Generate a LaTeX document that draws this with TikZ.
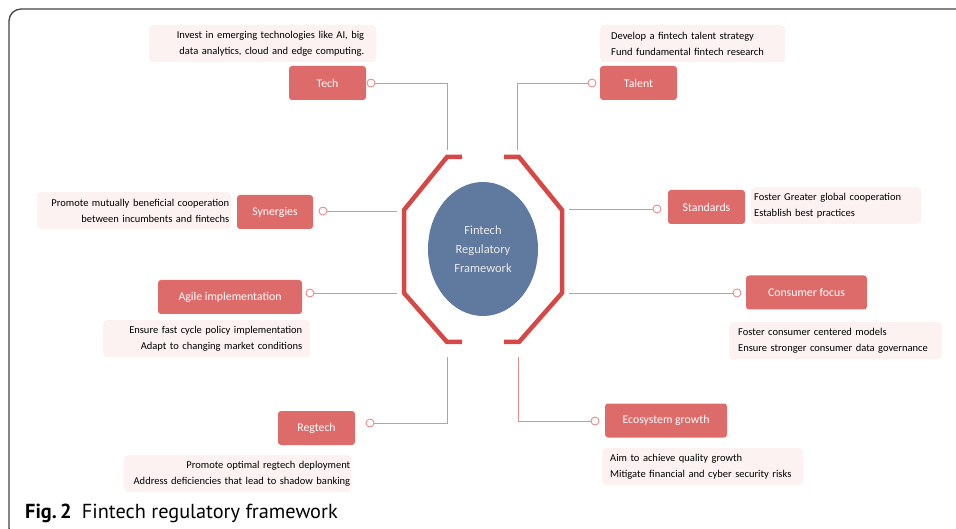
\documentclass[tikz,border=0pt]{standalone}
\usepackage{fontspec}
\setmainfont{Carlito}
\newfontfamily\capfont{PT Sans}
\usetikzlibrary{positioning,shapes.geometric}

\definecolor{pillred}{HTML}{DC6B6A}
\definecolor{linkred}{HTML}{E88C8A}
\definecolor{framered}{HTML}{D64845}
\definecolor{coreblue}{HTML}{60799E}
\definecolor{notepink}{HTML}{FCF2F2}
\definecolor{framegray}{HTML}{444444}

\begin{document}
\begin{tikzpicture}[
x=1pt, y=-1pt,
pill/.style={fill=pillred, text=white, rounded corners=3pt, minimum height=34pt, inner sep=0pt, font=\fontsize{11.8}{15}\selectfont},
note/.style={fill=notepink, rounded corners=4pt, minimum height=37pt, inner ysep=0pt, font=\fontsize{10.5}{16}\selectfont},
knob/.style={circle, draw=linkred, fill=white, line width=0.9pt, minimum size=8pt, inner sep=0pt},
link/.style={draw=linkred, line width=0.9pt},
bracket/.style={draw=framered, line width=4.5pt, miter limit=10}
]
\useasboundingbox (0,0) rectangle (956,529);
\begin{scope}
\clip (0,0) rectangle (956,529);
\draw[framegray, line width=1.3pt, rounded corners=12pt] (9,9) rectangle (990,540);
\end{scope}

% centre
\node[ellipse, fill=coreblue, minimum width=110pt, minimum height=134pt, align=center, text=white!92!black, font=\fontsize{12.5}{19}\selectfont] (core) at (483,249) {Fintech\\Regulatory\\Framework};
\draw[bracket] (462,157) -- (447,157) -- (404,210) -- (404,293) -- (447,342) -- (462,342);
\draw[bracket] (504,157) -- (519,157) -- (562,210) -- (562,293) -- (519,342) -- (504,342);

% ends of the spokes
\coordinate (tl) at (447,150);
\coordinate (tr) at (517,150);
\coordinate (bl) at (447,357);
\coordinate (br) at (518,357);
\coordinate (ml) at (397,211);
\coordinate (mr) at (569,209);
\coordinate (ll) at (397,293);
\coordinate (lr) at (569,293);

% pillars
\node[pill, minimum width=77pt] (tech) at (327.5,83) {Tech};
\node[pill, minimum width=77pt] (talent) at (638.5,83) {Talent};
\node[pill, minimum width=76pt] (syn) at (275,212) {Synergies};
\node[pill, minimum width=77pt] (std) at (706.5,207) {Standards};
\node[pill, minimum width=144pt] (agile) at (230,297) {Agile implementation};
\node[pill, minimum width=121pt] (cons) at (806.5,292.5) {Consumer focus};
\node[pill, minimum width=77pt] (reg) at (316.5,428) {Regtech};
\node[pill, minimum width=122pt] (eco) at (666,420.5) {Ecosystem growth};

% knobs
\node[knob] (k1) at (371,83) {};
\node[knob] (k2) at (592,83) {};
\node[knob] (k3) at (323,211) {};
\node[knob] (k4) at (657,209) {};
\node[knob] (k5) at (310,293) {};
\node[knob] (k6) at (737,293) {};
\node[knob] (k7) at (370,423) {};
\node[knob] (k8) at (595,421) {};

\draw[link] (k1) -| (tl);
\draw[link] (k2) -| (tr);
\draw[link] (k3) -- (ml);
\draw[link] (k4) -- (mr);
\draw[link] (k5) -- (ll);
\draw[link] (k6) -- (lr);
\draw[link] (k7) -| (bl);
\draw[link] (k8) -| (br);

% notes
\node[note, anchor=north west, minimum width=227pt, text width=203pt, inner xsep=12pt, align=right] (n1) at (149,25) {Invest in emerging technologies like AI, big\\data analytics, cloud and edge computing.};
\node[note, anchor=north west, minimum width=185pt, text width=163pt, inner xsep=11pt, align=left] (n2) at (600,25) {Develop a fintech talent strategy\\Fund fundamental fintech research};
\node[note, anchor=north west, minimum width=194pt, text width=190pt, inner xsep=2pt, align=right] (n3) at (37,192) {Promote mutually beneficial cooperation\\between incumbents and fintechs};
\node[note, anchor=north west, minimum width=170pt, text width=164pt, inner xsep=3pt, align=left] (n4) at (751,187) {Foster Greater global cooperation\\Establish best practices};
\node[note, anchor=north west, minimum width=207pt, text width=191pt, inner xsep=8pt, align=right] (n5) at (103,320) {Ensure fast cycle policy implementation\\Adapt to changing market conditions};
\node[note, anchor=north west, minimum width=213pt, text width=195pt, inner xsep=9pt, align=left] (n6) at (729,322) {Foster consumer centered models\\Ensure stronger consumer data governance};
\node[note, anchor=north west, minimum width=227pt, text width=225pt, inner xsep=1pt, align=right] (n7) at (124,455) {Promote optimal regtech deployment\\Address deficiencies that lead to shadow banking};
\node[note, anchor=north west, minimum width=201pt, text width=185pt, inner xsep=8pt, align=left] (n8) at (602,448) {Aim to achieve quality growth\\Mitigate financial and cyber security risks};

% caption
\node[anchor=base west, inner sep=0pt, font=\capfont\fontsize{20.3}{24}\selectfont] (cap) at (25,518) {\textbf{Fig.\,2}\enspace Fintech regulatory framework};
\end{tikzpicture}
\end{document}
